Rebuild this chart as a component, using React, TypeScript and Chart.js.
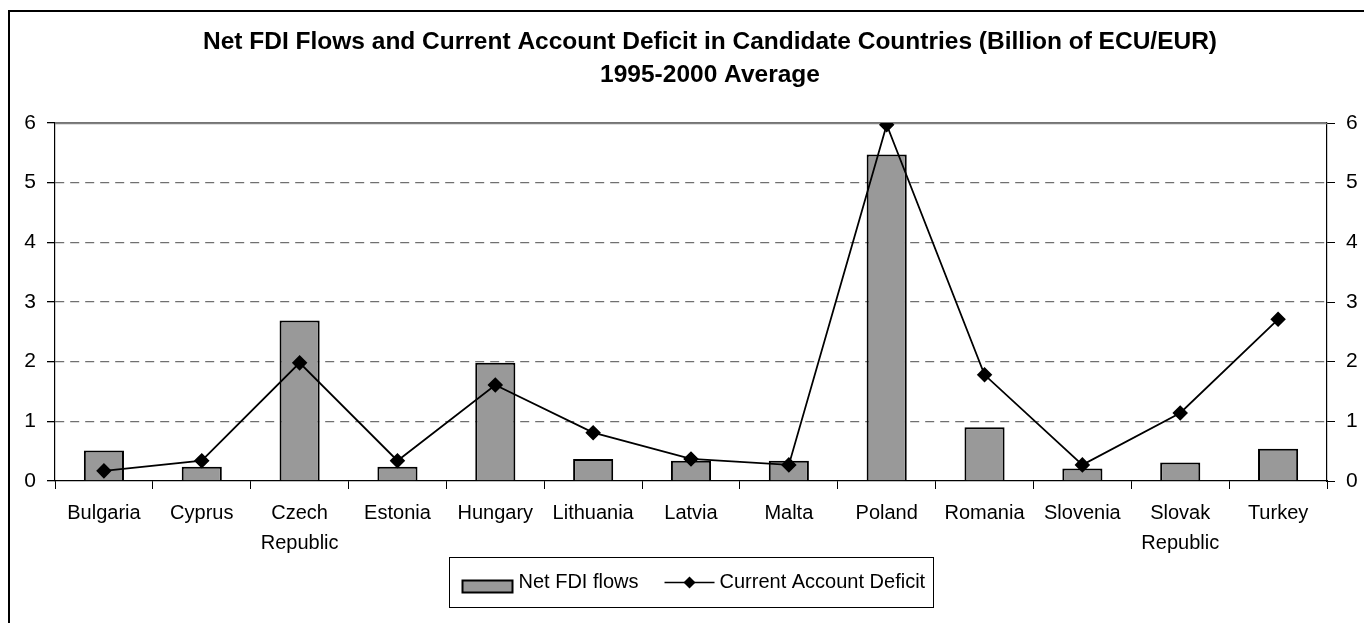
import React, { useEffect, useRef } from "react";
import { Chart, registerables } from "chart.js";

Chart.register(...registerables);

const categories: (string | string[])[] = [
  "Bulgaria",
  "Cyprus",
  ["Czech", "Republic"],
  "Estonia",
  "Hungary",
  "Lithuania",
  "Latvia",
  "Malta",
  "Poland",
  "Romania",
  "Slovenia",
  ["Slovak", "Republic"],
  "Turkey",
];

const netFdiFlows = [0.51, 0.24, 2.69, 0.24, 1.98, 0.37, 0.34, 0.34, 5.47, 0.9, 0.21, 0.31, 0.54];
const currentAccountDeficit = [0.17, 0.34, 1.98, 0.34, 1.61, 0.81, 0.37, 0.27, 5.97, 1.78, 0.27, 1.14, 2.71];

const titleLines = [
  "Net FDI Flows and Current Account Deficit in Candidate Countries (Billion of ECU/EUR)",
  "1995-2000 Average",
];
const seriesNames = ["Net FDI flows", "Current Account Deficit"];
const yMin = 0;
const yMax = 6;
const yStep = 1;

const FONT = "'Liberation Sans', Arial, Helvetica, sans-serif";

const decorPlugin = {
  id: "decor",
  beforeDatasetsDraw(chart: any) {
    const { ctx, chartArea } = chart;
    ctx.save();
    ctx.strokeStyle = "#808080";
    ctx.lineWidth = 1.5;
    ctx.beginPath();
    ctx.moveTo(chartArea.left, chartArea.top + 0.5);
    ctx.lineTo(chartArea.right, chartArea.top + 0.5);
    ctx.stroke();
    ctx.restore();
  },
  afterDraw(chart: any) {
    const { ctx, chartArea } = chart;
    ctx.save();
    // title
    ctx.fillStyle = "#000";
    ctx.font = `bold 24.5px ${FONT}`;
    ctx.textAlign = "center";
    ctx.textBaseline = "middle";
    ctx.fillText(titleLines[0], 710, 42);
    ctx.fillText(titleLines[1], 710, 75);

    // legend
    ctx.font = `20px ${FONT}`;
    const w1 = ctx.measureText(seriesNames[0]).width;
    const w2 = ctx.measureText(seriesNames[1]).width;
    const total = 13 + 50 + 6 + w1 + 26 + 50 + 5 + w2 + 8;
    const cx = (chartArea.left + chartArea.right) / 2;
    const bx = Math.round(cx - total / 2) + 0.5;
    const by = 557.5;
    const bh = 50;
    ctx.strokeStyle = "#000";
    ctx.lineWidth = 1;
    ctx.strokeRect(bx, by, Math.round(total), bh);
    const cy = by + bh / 2;
    let x = bx + 13;
    ctx.fillStyle = "#999999";
    ctx.fillRect(x, cy - 2, 50, 12);
    ctx.lineWidth = 2;
    ctx.strokeRect(x, cy - 2, 50, 12);
    x += 56;
    ctx.fillStyle = "#000";
    ctx.textAlign = "left";
    ctx.fillText(seriesNames[0], x, cy);
    x += w1 + 26;
    ctx.lineWidth = 1.5;
    ctx.beginPath();
    ctx.moveTo(x, cy);
    ctx.lineTo(x + 50, cy);
    ctx.stroke();
    ctx.beginPath();
    const dx = x + 25;
    ctx.moveTo(dx, cy - 6);
    ctx.lineTo(dx + 6, cy);
    ctx.lineTo(dx, cy + 6);
    ctx.lineTo(dx - 6, cy);
    ctx.closePath();
    ctx.fill();
    x += 55;
    ctx.fillText(seriesNames[1], x, cy);
    ctx.restore();
  },
};

export default function App() {
  const canvasRef = useRef<HTMLCanvasElement | null>(null);

  useEffect(() => {
    const canvas = canvasRef.current;
    if (!canvas) return;
    const chart = new Chart(canvas, {
      type: "bar",
      data: {
        labels: categories,
        datasets: [
          {
            type: "line",
            label: seriesNames[1],
            data: currentAccountDeficit,
            yAxisID: "y1",
            borderColor: "#000",
            backgroundColor: "#000",
            borderWidth: 1.8,
            pointStyle: "rectRot",
            pointRadius: 6.5,
            pointBackgroundColor: "#000",
            pointBorderColor: "#000",
            tension: 0,
            order: 0,
          } as any,
          {
            type: "bar",
            label: seriesNames[0],
            data: netFdiFlows,
            yAxisID: "y",
            backgroundColor: "#999999",
            borderColor: "#000",
            borderWidth: 2,
            barPercentage: 0.41,
            categoryPercentage: 1,
            order: 1,
          },
        ],
      },
      options: {
        responsive: false,
        animation: false,
        devicePixelRatio: 1,
        layout: { padding: { top: 123, left: 8, right: 0, bottom: 0 } },
        plugins: {
          legend: { display: false },
          title: { display: false },
          tooltip: { enabled: false },
        },
        scales: {
          x: {
            offset: true,
            grid: {
              offset: true,
              drawOnChartArea: false,
              drawTicks: true,
              tickLength: 8,
              tickColor: "#000",
            },
            border: { color: "#000", width: 1.2 },
            ticks: {
              color: "#000",
              font: { size: 20, family: FONT, lineHeight: 1.5 },
              padding: 9,
              maxRotation: 0,
              autoSkip: false,
            },
            afterFit: (s: any) => {
              s.height = 142;
            },
          },
          y: {
            position: "left",
            min: yMin,
            max: yMax,
            ticks: {
              stepSize: yStep,
              color: "#000",
              padding: 11,
              font: { size: 21, family: FONT },
            },
            grid: {
              color: (c: any) => (c.tick && c.tick.value === 0 ? "rgba(0,0,0,0)" : "#707070"),
              lineWidth: 1.3,
              tickLength: 8,
              tickColor: "#000",
            },
            border: {
              color: "#000",
              width: 1.2,
              dash: (c: any) => (c.tick && (c.tick.value === 6 || c.tick.value === 0) ? [] : [9, 6]),
            } as any,
            afterFit: (s: any) => {
              s.width = 47;
            },
          },
          y1: {
            position: "right",
            min: yMin,
            max: yMax,
            ticks: {
              stepSize: yStep,
              color: "#000",
              padding: 11,
              font: { size: 21, family: FONT },
            },
            grid: {
              drawOnChartArea: false,
              tickLength: 8,
              tickColor: "#000",
            },
            border: { color: "#000", width: 1.2 },
            afterFit: (s: any) => {
              s.width = 37;
            },
          },
        },
      },
      plugins: [decorPlugin],
    });
    return () => chart.destroy();
  }, []);

  return (
    <div
      style={{
        position: "fixed",
        left: 0,
        top: 0,
        width: 1364,
        height: 623,
        overflow: "hidden",
        background: "#fff",
      }}
    >
      <div
        style={{
          position: "absolute",
          left: 8,
          top: 10,
          width: 2000,
          height: 2000,
          borderLeft: "2px solid #000",
          borderTop: "2px solid #000",
        }}
      />
      <canvas
        ref={canvasRef}
        width={1364}
        height={623}
        style={{ position: "absolute", left: 0, top: 0, display: "block" }}
      />
    </div>
  );
}
